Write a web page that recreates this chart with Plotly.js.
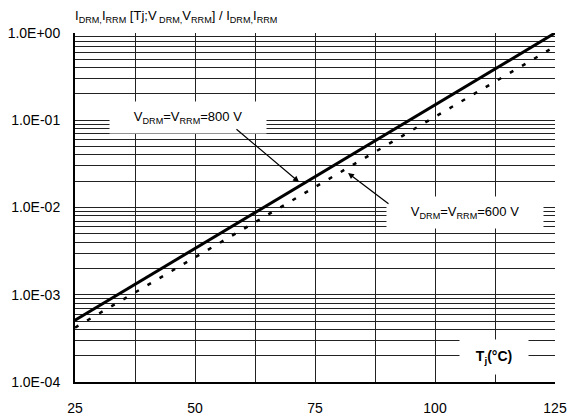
<!DOCTYPE html>
<html>
<head>
<meta charset="utf-8">
<script src="https://cdn.plot.ly/plotly-3.0.1.min.js"></script>
<style>html,body{margin:0;padding:0;background:#fff;}#chart{width:569px;height:416px;}</style>
</head>
<body>
<div id="chart"></div>
<script>
// Data
var tempC = [25, 125];
var leak800 = [5.1e-4, 1.0];
var leak600 = [4.2e-4, 0.7];

var xTickVals = [25, 50, 75, 100, 125];
var xTickText = ['25', '50', '75', '100', '125'];
var xMinorVals = [37.5, 62.5, 87.5, 112.5];

var yTickVals = [1e-4, 1e-3, 1e-2, 1e-1, 1];
var yTickText = ['1.0E-04', '1.0E-03', '1.0E-02', '1.0E-01', '1.0E+00'];
var mantissas = [2, 3, 4, 5, 6, 7, 8, 9];

var yMinorVals = [];
yTickVals.slice(0, -1).forEach(function (d) {
  mantissas.forEach(function (m) { yMinorVals.push(m * d); });
});

var FONT = 'Liberation Sans, Arial, sans-serif';

var traces = [
  {x: tempC, y: leak800, mode: 'lines', line: {color: '#000', width: 3}, hoverinfo: 'skip'},
  {x: tempC, y: leak600, mode: 'lines', line: {color: '#000', width: 2.5, dash: '4px,10px'}, hoverinfo: 'skip'}
];

var gridStyle = {showgrid: true, gridcolor: '#222', gridwidth: 1, ticks: ''};

var layout = {
  width: 569, height: 416,
  margin: {l: 75, r: 14, t: 33, b: 34},
  paper_bgcolor: '#fff', plot_bgcolor: '#fff',
  showlegend: false,
  font: {family: FONT, size: 14, color: '#000'},
  xaxis: {
    type: 'linear', range: [25, 125],
    tickmode: 'array', tickvals: xTickVals, ticktext: xTickText,
    showgrid: true, gridcolor: '#222', gridwidth: 1,
    minor: Object.assign({tickmode: 'array', tickvals: xMinorVals}, gridStyle),
    showline: true, linecolor: '#000', linewidth: 2,
    ticks: '', ticklabelstandoff: 12, zeroline: false,
    tickfont: {family: FONT, size: 14, color: '#000'}
  },
  yaxis: {
    type: 'log', range: [-4, 0],
    tickmode: 'array', tickvals: yTickVals, ticktext: yTickText,
    showgrid: true, gridcolor: '#222', gridwidth: 1,
    minor: Object.assign({tickmode: 'array', tickvals: yMinorVals}, gridStyle),
    showline: true, linecolor: '#000', linewidth: 2,
    ticks: '', ticklabelstandoff: 10, zeroline: false,
    tickfont: {family: FONT, size: 14, color: '#000'}
  },
  annotations: [
    {xref: 'paper', yref: 'paper', x: -0.004, y: 1, xanchor: 'left', yanchor: 'bottom', yshift: 6,
     showarrow: false, align: 'left',
     text: 'I<sub>DRM,</sub>I<sub>RRM</sub> [Tj;V<sub> DRM,</sub>V<sub>RRM</sub>] / I<sub>DRM,</sub>I<sub>RRM</sub>',
     font: {family: FONT, size: 13, color: '#000'}},
    // 800 V label
    {xref: 'x', yref: 'y', x: 48.5, y: -0.974, showarrow: false,
     text: 'V<sub>DRM</sub>=V<sub>RRM</sub>=800 V', bgcolor: '#fff', borderpad: 7, width: 142,
     font: {family: FONT, size: 13, color: '#000'}},
    {xref: 'x', yref: 'y', x: 71.67, y: -1.708, axref: 'x', ayref: 'y', ax: 58.33, ay: -1.089,
     text: '', showarrow: true, arrowhead: 2, arrowsize: 1, arrowwidth: 1.2, arrowcolor: '#000'},
    // 600 V label
    {xref: 'x', yref: 'y', x: 106.25, y: -2.052, showarrow: false,
     text: 'V<sub>DRM</sub>=V<sub>RRM</sub>=600 V', bgcolor: '#fff', borderpad: 7, width: 142,
     font: {family: FONT, size: 13, color: '#000'}},
    {xref: 'x', yref: 'y', x: 81.875, y: -1.605, axref: 'x', ayref: 'y', ax: 90.625, ay: -1.971,
     text: '', showarrow: true, arrowhead: 2, arrowsize: 1, arrowwidth: 1.2, arrowcolor: '#000'},
    // axis title
    {xref: 'x', yref: 'y', x: 112.3, y: -3.713, showarrow: false,
     text: '<b>T<sub>j</sub>(°C)</b>', bgcolor: '#fff', borderpad: 8, width: 52,
     font: {family: FONT, size: 14, color: '#000'}}
  ]
};

Plotly.newPlot('chart', traces, layout, {staticPlot: true, displayModeBar: false});
</script>
</body>
</html>
